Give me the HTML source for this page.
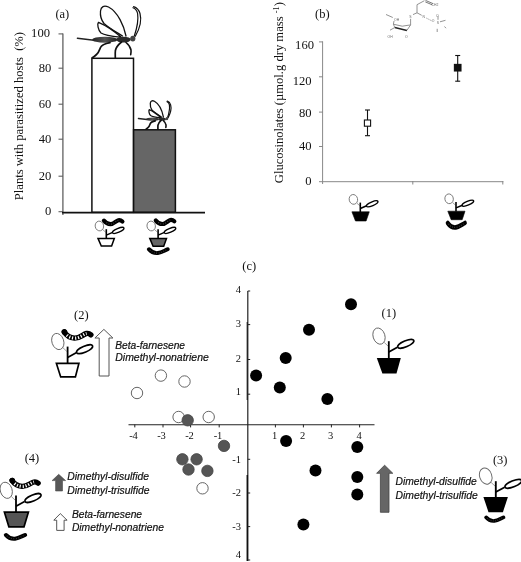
<!DOCTYPE html>
<html>
<head>
<meta charset="utf-8">
<title>Figure</title>
<style>
html,body{margin:0;padding:0;background:#fff;}
body{width:521px;height:562px;overflow:hidden;font-family:"Liberation Serif",serif;}
svg{display:block;filter:blur(0.45px);}
.se{font-family:"Liberation Serif",serif;fill:#111;}
.sa{font-family:"Liberation Sans",sans-serif;font-style:italic;fill:#111;font-size:10.2px;stroke:#111;stroke-width:0.2px;}
</style>
</head>
<body>
<svg width="521" height="562" viewBox="0 0 521 562">
<defs>
  <!-- wasp drawn in large-wasp page coordinates -->
  <linearGradient id="abd" x1="0" y1="0" x2="1" y2="0">
    <stop offset="0" stop-color="#222"/><stop offset="0.5" stop-color="#555"/><stop offset="1" stop-color="#222"/>
  </linearGradient>
  <g id="wasp" fill="none" stroke="#111" stroke-linecap="round" stroke-linejoin="round">
    <!-- fore wing -->
    <path vector-effect="non-scaling-stroke" d="M126,36 C124,26 118,12 108.5,7 C104,5 101,6.5 100.5,11 C100,16 102,21 104,23.5 C110,29 118,33 122.5,36" stroke-width="1.3" fill="#fff"/>
    <!-- hind wing -->
    <path vector-effect="non-scaling-stroke" d="M121,37 C114,31 105,25 98.5,22.3 C97,24 98,30 101,33 C105,35.5 113,36.5 120,37.2" stroke-width="1.3" fill="#fff"/>
    <!-- antennae -->
    <path vector-effect="non-scaling-stroke" d="M134.3,36 C137,28 138.6,20 137.6,13.5 C137,10.5 135.3,8.5 133,7.7" stroke-width="1.2"/>
    <path vector-effect="non-scaling-stroke" d="M135.3,36.3 C139.5,29 141.8,20 140,13.5 C139,10 136.5,7.5 133.6,6.6" stroke-width="1.2"/>
    <!-- ovipositor -->
    <path vector-effect="non-scaling-stroke" d="M77.4,38.3 L94,40.2" stroke-width="1.4" stroke="#222"/>
    <!-- abdomen -->
    <ellipse cx="104.8" cy="39.7" rx="12.5" ry="3" fill="url(#abd)" stroke="none"/>
    <!-- thorax -->
    <ellipse cx="123.5" cy="39.6" rx="7.4" ry="2.9" fill="#2a2a2a" stroke="none"/>
    <!-- head -->
    <ellipse cx="132.8" cy="38.6" rx="2.6" ry="2.9" fill="#444" stroke="none"/>
    <!-- legs -->
    <path vector-effect="non-scaling-stroke" d="M110,42.6 C105,43.5 101.5,45 100.5,47.5 C99.5,50 98.5,53 96.5,54.5 C95,55.8 93.5,57 92.3,57.8" stroke-width="1.7"/>
    <path vector-effect="non-scaling-stroke" d="M121.5,42 C118.5,44.5 116,47.5 115.4,50.5 C115.1,53 115.3,55.5 115.3,57.8" stroke-width="1.7"/>
    <path vector-effect="non-scaling-stroke" d="M126,42.5 C128.5,44.5 130.5,47.5 131,50 C131.2,52 130.9,53.5 130.7,54.6" stroke-width="1.6"/>
  </g>

  <!-- caterpillar (large, striped) origin = head centre -->
  <g id="cat">
    <path d="M0,0 C2,3.2 5.5,5.6 10,6 C15,6.3 18,2.6 22,1.5 C23.6,1.1 25,1.8 26.2,2.8" fill="none" stroke="#000" stroke-width="5.2" stroke-linecap="round" stroke-linejoin="round"/>
    <circle cx="0.3" cy="0.2" r="2.8" fill="#000"/>
    <path d="M2.2,2.6 C4,4.6 6.5,5.7 10,6 C15,6.3 18,2.6 22,1.5" fill="none" stroke="#fff" stroke-width="3.1" stroke-dasharray="1.15 1.75" stroke-dashoffset="-0.6"/>
  </g>
  <!-- small caterpillar (blob) origin = left end -->
  <g id="catS">
    <path d="M0,0 C2.5,3.2 6,4.8 9.5,4.4 C13.5,4 16.5,1.6 20,0" fill="none" stroke="#000" stroke-width="4.6" stroke-linecap="round"/>
    <path d="M1,1 C3,3.4 6,4.8 9.5,4.4 C13.5,4 16.5,1.6 19,0.4" fill="none" stroke="#4a4a4a" stroke-width="1.3" stroke-dasharray="0.8 1.8"/>
  </g>
  <g id="catT">
    <path d="M0,0 C1.5,2 3.5,3.6 6.5,3.6 C10,3.6 12,0.2 14.5,-0.4 C16,-0.7 17.5,0 18.5,0.9" fill="none" stroke="#000" stroke-width="4.2" stroke-linecap="round" stroke-linejoin="round"/>
    <path d="M2.5,2 C4,3.2 5,3.6 6.5,3.6 C10,3.6 12,0.2 14.5,-0.4" fill="none" stroke="#555" stroke-width="1.1" stroke-dasharray="0.8 1.7"/>
  </g>
  <!-- small plant: origin = top-centre of pot (stem base) -->
  <g id="plantS">
    <ellipse cx="-6.9" cy="-12.4" rx="4.2" ry="4.9" fill="#fff" stroke="#777" stroke-width="0.9" transform="rotate(-12 -6.9 -12.4)"/>
    <path d="M-3.4,-8.6 L-0.6,-6.2" stroke="#888" stroke-width="0.8" fill="none"/>
    <path d="M0,0.3 L0,-9.2" stroke="#000" stroke-width="1.6" fill="none"/>
    <path d="M0,-3.3 L6.4,-6" stroke="#000" stroke-width="1.5" fill="none"/>
    <ellipse cx="11.9" cy="-8" rx="6.2" ry="1.9" fill="#fff" stroke="#000" stroke-width="1.4" transform="rotate(-23 11.9 -8)"/>
  </g>
  <!-- large plant -->
  <g id="plantL">
    <ellipse cx="-9.8" cy="-21.9" rx="5.9" ry="8.3" fill="#fff" stroke="#666" stroke-width="0.9" transform="rotate(-18 -9.8 -21.9)"/>
    <path d="M-4.6,-15.6 L-0.8,-12" stroke="#888" stroke-width="0.8" fill="none"/>
    <path d="M0,0.5 L0,-16.8" stroke="#000" stroke-width="1.8" fill="none"/>
    <path d="M0,-6 L8.6,-10.7" stroke="#000" stroke-width="1.7" fill="none"/>
    <ellipse cx="17" cy="-14.2" rx="8.7" ry="3" fill="#fff" stroke="#000" stroke-width="1.6" transform="rotate(-23 17 -14.2)"/>
  </g>
</defs>

<rect x="0" y="0" width="521" height="562" fill="#fff"/>

<!-- ================= PANEL (a) ================= -->
<g id="panelA">
  <text class="se" x="55.4" y="17.5" font-size="12.5">(a)</text>
  <text class="se" transform="translate(22.9,200.2) rotate(-90)" font-size="12.6" xml:space="preserve">Plants with parasitized hosts  (%)</text>
  <!-- axis -->
  <line x1="62.9" y1="33.5" x2="62.9" y2="215" stroke="#606060" stroke-width="1.3"/>
  <g stroke="#606060" stroke-width="1.1">
    <line x1="58.5" y1="33.9" x2="63" y2="33.9"/>
    <line x1="58.5" y1="68.2" x2="63" y2="68.2"/>
    <line x1="58.5" y1="104.2" x2="63" y2="104.2"/>
    <line x1="58.5" y1="139.2" x2="63" y2="139.2"/>
    <line x1="58.5" y1="176.2" x2="63" y2="176.2"/>
    <line x1="58.5" y1="211.7" x2="63" y2="211.7"/>
  </g>
  <g class="se" font-size="12.6" text-anchor="end">
    <text x="50" y="37.4">100</text>
    <text x="51.3" y="71.7">80</text>
    <text x="51.3" y="107.7">60</text>
    <text x="51.3" y="142.7">40</text>
    <text x="51.3" y="179.7">20</text>
    <text x="51.3" y="215.2">0</text>
  </g>
  <!-- bars -->
  <rect x="91.9" y="58.3" width="41.6" height="154" fill="#fff" stroke="#111" stroke-width="1.5"/>
  <rect x="133.6" y="129.8" width="41.8" height="82.5" fill="#666" stroke="#111" stroke-width="1.5"/>
  <line x1="62" y1="212.6" x2="205" y2="212.6" stroke="#111" stroke-width="1.7"/>
  <!-- wasps -->
  <use href="#wasp"/>
  <use href="#wasp" transform="translate(138.4,118.5) scale(0.515,0.55) translate(-77.4,-38.4)"/>

  <!-- plants under bars -->
  <g transform="translate(106.3,238.4)">
    <use href="#plantS"/>
    <path d="M-8.3,0 L8,0 L5.3,7.6 L-5,7.6 Z" fill="#fff" stroke="#000" stroke-width="1.5"/>
  </g>
  <use href="#catT" transform="translate(103.9,220.6)"/>
  <g transform="translate(158.1,238.4)">
    <use href="#plantS"/>
    <path d="M-8.3,0 L8.4,0 L5.6,7.8 L-5,7.8 Z" fill="#666" stroke="#000" stroke-width="1.5"/>
  </g>
  <use href="#catT" transform="translate(155.8,220.4)"/>
  <use href="#catS" transform="translate(149,249.3) scale(0.93,0.85)"/>
</g>

<g id="panelB">
  <text class="se" x="315" y="17.5" font-size="12.5">(b)</text>
  <text class="se" transform="translate(283.3,183.2) rotate(-90)" font-size="12.6" xml:space="preserve">Glucosinolates (µmol.g dry mass <tspan font-size="8.4" dy="-4.2">-1</tspan><tspan dy="4.2">)</tspan></text>
  <line x1="322.6" y1="41.5" x2="322.6" y2="184" stroke="#888" stroke-width="1"/>
  <line x1="319" y1="181.7" x2="503.3" y2="181.7" stroke="#888" stroke-width="1"/>
  <g stroke="#888" stroke-width="1">
    <line x1="319" y1="41.9" x2="323" y2="41.9"/>
    <line x1="319" y1="76.8" x2="323" y2="76.8"/>
    <line x1="319" y1="112.1" x2="323" y2="112.1"/>
    <line x1="319" y1="146.5" x2="323" y2="146.5"/>
    <line x1="412.8" y1="181" x2="412.8" y2="184.5"/>
    <line x1="502.8" y1="181" x2="502.8" y2="184.5"/>
  </g>
  <g class="se" font-size="12.6" text-anchor="end">
    <text x="314" y="48.5">160</text>
    <text x="311.6" y="84.6">120</text>
    <text x="311.6" y="116.6">80</text>
    <text x="311.6" y="150.3">40</text>
    <text x="311.6" y="185">0</text>
  </g>
  <!-- data points -->
  <g stroke="#111" stroke-width="1.1" fill="none">
    <line x1="367.5" y1="110" x2="367.5" y2="135.7"/>
    <line x1="365" y1="110" x2="370" y2="110"/>
    <line x1="365" y1="135.7" x2="370" y2="135.7"/>
    <rect x="364.4" y="120" width="6.2" height="6.2" fill="#fff"/>
    <line x1="457.7" y1="55.5" x2="457.7" y2="81.2"/>
    <line x1="455.2" y1="55.5" x2="460.2" y2="55.5"/>
    <line x1="455.2" y1="81.2" x2="460.2" y2="81.2"/>
    <rect x="454.4" y="64.4" width="6.6" height="6.6" fill="#111"/>
  </g>
  <!-- plants -->
  <g transform="translate(360.3,211.8)">
    <use href="#plantS"/>
    <path d="M-8.4,0 L9,0 L5.8,9.2 L-4.8,9.2 Z" fill="#000" stroke="#000" stroke-width="0.6"/>
  </g>
  <g transform="translate(456,211.2)">
    <use href="#plantS"/>
    <path d="M-8.2,0 L9,0 L6.2,8.5 L-4.8,8.5 Z" fill="#000" stroke="#000" stroke-width="0.6"/>
  </g>
  <use href="#catS" transform="translate(447.7,223) scale(0.86,1)"/>
  <!-- molecule -->
  <g id="mol" stroke="#777" stroke-width="0.8" fill="none">
    <path d="M417,12.8 L417,4.7 L424.4,0.7"/>
    <path d="M425.5,0.4 L433,3.6 M425.3,1.9 L432.4,4.9" stroke="#555"/>
    <path d="M417,12.8 L421.7,15.3"/>
    <path d="M426.4,18.1 L431.7,20.8" stroke-dasharray="1.2 1"/>
    <path d="M440,21.8 L445.5,20.3 M438,16.2 L438,19.8 M437.2,28.8 L437.2,32 M444.5,26.5 L446,28.2"/>
    <path d="M417,12.8 L413,14.6"/>
    <path d="M410.6,18.8 L410.6,24.9 L406.9,30.4"/>
    <path d="M406.9,30.6 L394.8,27.5" stroke="#222" stroke-width="1.5"/>
    <path d="M394.8,27.5 L390,30.2 M394.8,27.5 L393.4,24.2 L402.2,26.2 L410.6,24.9 M393.4,24.2 L394,21"/>
    <path d="M386,14.5 L392.8,17.5"/>
  </g>
  <g font-family="Liberation Sans, sans-serif" font-size="3.4" fill="#666">
    <text x="409.2" y="18.2">S</text>
    <text x="422.5" y="17.8">N</text>
    <text x="431.8" y="22.3">O</text>
    <text x="436.8" y="23.6">S</text>
    <text x="436" y="17">O</text>
    <text x="394" y="20.8">OH</text>
    <text x="387.5" y="37.5">OH</text>
    <text x="405" y="37.5">O</text>
    <text x="431.6" y="6.3">CH2</text>
  </g>
</g>


<g id="panelC">
  <text class="se" x="242.3" y="270" font-size="12.5">(c)</text>
  <!-- axes -->
  <line x1="247.8" y1="291" x2="247.8" y2="561" stroke="#222" stroke-width="1.2"/>
  <line x1="247.3" y1="475" x2="247.3" y2="561" stroke="#111" stroke-width="1.5"/>
  <line x1="247.3" y1="322" x2="247.3" y2="400" stroke="#222" stroke-width="1.3"/>
  <line x1="128.5" y1="424.7" x2="374.5" y2="424.7" stroke="#222" stroke-width="1.1"/>
  <g stroke="#222" stroke-width="1">
    <line x1="134.8" y1="424.5" x2="134.8" y2="427.4"/>
    <line x1="163" y1="424.5" x2="163" y2="427.4"/>
    <line x1="190.6" y1="424.5" x2="190.6" y2="427.4"/>
    <line x1="219.2" y1="424.5" x2="219.2" y2="427.4"/>
    <line x1="275.4" y1="424.5" x2="275.4" y2="427.4"/>
    <line x1="303.4" y1="424.5" x2="303.4" y2="427.4"/>
    <line x1="331.4" y1="424.5" x2="331.4" y2="427.4"/>
    <line x1="359.6" y1="424.5" x2="359.6" y2="427.4"/>
    <line x1="247.8" y1="291" x2="250.2" y2="291"/>
    <line x1="247.8" y1="324.6" x2="250.2" y2="324.6"/>
    <line x1="247.8" y1="359.5" x2="250.2" y2="359.5"/>
    <line x1="247.8" y1="394.2" x2="250.2" y2="394.2"/>
    <line x1="247.8" y1="459.3" x2="250.2" y2="459.3"/>
    <line x1="247.8" y1="493" x2="250.2" y2="493"/>
    <line x1="247.8" y1="526.6" x2="250.2" y2="526.6"/>
    <line x1="247.8" y1="560" x2="250.2" y2="560"/>
  </g>
  <g class="se" font-size="10.5" text-anchor="middle">
    <text x="133.5" y="438.7">-4</text>
    <text x="161.5" y="438.7">-3</text>
    <text x="189.5" y="438.7">-2</text>
    <text x="218" y="438.7">-1</text>
    <text x="274.6" y="438.7">1</text>
    <text x="302.5" y="438.7">2</text>
    <text x="330.5" y="438.7">3</text>
    <text x="359" y="438.7">4</text>
  </g>
  <g class="se" font-size="10.5" text-anchor="end">
    <text x="241" y="292.5">4</text>
    <text x="241" y="326.8">3</text>
    <text x="241" y="361.5">2</text>
    <text x="241" y="395">1</text>
    <text x="241" y="463">-1</text>
    <text x="241" y="496">-2</text>
    <text x="241" y="529.7">-3</text>
    <text x="241" y="558">4</text>
  </g>
  <!-- points -->
  <g fill="#fff" stroke="#555" stroke-width="0.9">
    <circle cx="160.9" cy="375.6" r="5.7"/>
    <circle cx="184.5" cy="381.5" r="5.7"/>
    <circle cx="137" cy="393" r="5.7"/>
    <circle cx="178.6" cy="417" r="5.7"/>
    <circle cx="208.7" cy="417" r="5.7"/>
    <circle cx="202.5" cy="488.3" r="5.7"/>
  </g>
  <g fill="#555" stroke="#444" stroke-width="0.8">
    <circle cx="187.7" cy="420.3" r="5.7"/>
    <circle cx="224" cy="445.9" r="5.7"/>
    <circle cx="182.4" cy="459.3" r="5.7"/>
    <circle cx="196.6" cy="459.3" r="5.7"/>
    <circle cx="188.5" cy="469.5" r="5.7"/>
    <circle cx="207.4" cy="470.9" r="5.7"/>
  </g>
  <g fill="#000">
    <circle cx="351" cy="304.2" r="6"/>
    <circle cx="309" cy="329.7" r="6"/>
    <circle cx="285.7" cy="358" r="6"/>
    <circle cx="256.1" cy="375.4" r="6"/>
    <circle cx="279.8" cy="387.5" r="6"/>
    <circle cx="327.4" cy="399" r="6"/>
    <circle cx="286.1" cy="440.9" r="6"/>
    <circle cx="357.3" cy="447" r="6"/>
    <circle cx="315.5" cy="470.6" r="6"/>
    <circle cx="357.3" cy="477" r="6"/>
    <circle cx="357.3" cy="494.5" r="6"/>
    <circle cx="303.4" cy="524.5" r="6"/>
  </g>

  <!-- (1) -->
  <text class="se" x="381.6" y="317.4" font-size="12.5">(1)</text>
  <g transform="translate(388.8,358)">
    <use href="#plantL"/>
    <path d="M-12,0 L12,0 L7.7,15.5 L-6.4,15.5 Z" fill="#000"/>
  </g>

  <!-- (2) -->
  <text class="se" x="74" y="318.7" font-size="12.5">(2)</text>
  <g transform="translate(67.6,363.4)">
    <use href="#plantL"/>
    <path d="M-11.2,0 L11.3,0 L7.8,13.5 L-6.9,13.5 Z" fill="#fff" stroke="#000" stroke-width="1.7"/>
  </g>
  <use href="#cat" transform="translate(64.2,331.9) scale(1.02,1.04)"/>
  <path d="M99.2,376 L99.2,338 L94.9,338 L103.9,329.4 L112.9,338 L109,338 L109,376 Z" fill="#fff" stroke="#555" stroke-width="1"/>
  <text class="sa" x="115.3" y="348.7" textLength="69.7" lengthAdjust="spacingAndGlyphs">Beta-farnesene</text>
  <text class="sa" x="115.3" y="361.4" textLength="93.5" lengthAdjust="spacingAndGlyphs">Dimethyl-nonatriene</text>

  <!-- (3) -->
  <text class="se" x="492.9" y="464" font-size="12.5">(3)</text>
  <g transform="translate(495.4,497)">
    <use href="#plantL" transform="translate(0.4,1) scale(1.03,1)"/>
    <path d="M-12,0 L12.5,0 L7.5,15.2 L-6.9,15.2 Z" fill="#000"/>
  </g>
  <use href="#catS" transform="translate(486.2,517.4) scale(0.86,0.8)"/>
  <path d="M380.4,512.3 L380.4,473.3 L376.6,473.3 L384.6,465.2 L392.8,473.3 L389,473.3 L389,512.3 Z" fill="#666" stroke="#444" stroke-width="0.8"/>
  <text class="sa" x="395.5" y="485" textLength="81.3" lengthAdjust="spacingAndGlyphs">Dimethyl-disulfide</text>
  <text class="sa" x="395.5" y="499" textLength="82.2" lengthAdjust="spacingAndGlyphs">Dimethyl-trisulfide</text>

  <!-- (4) -->
  <text class="se" x="24.7" y="462.3" font-size="12.5">(4)</text>
  <g transform="translate(16,512.2)">
    <use href="#plantL"/>
    <path d="M-11.6,0 L12.4,0 L8,14.6 L-7.1,14.6 Z" fill="#555" stroke="#000" stroke-width="1.7"/>
  </g>
  <use href="#cat" transform="translate(12,480.4)"/>
  <use href="#catS" transform="translate(6,535) scale(0.95,0.85)"/>
  <path d="M55.6,491 L55.6,480.6 L52.1,480.6 L58.7,474.3 L65.6,480.6 L62.5,480.6 L62.5,491 Z" fill="#585858" stroke="#4a4a4a" stroke-width="0.6"/>
  <path d="M56.7,530.4 L56.7,520.2 L53.8,520.2 L60.3,513.6 L67.1,520.2 L64.1,520.2 L64.1,530.4 Z" fill="#fff" stroke="#444" stroke-width="0.9"/>
  <text class="sa" x="67.3" y="480" textLength="81.7" lengthAdjust="spacingAndGlyphs">Dimethyl-disulfide</text>
  <text class="sa" x="67.3" y="493.8" textLength="82.2" lengthAdjust="spacingAndGlyphs">Dimethyl-trisulfide</text>
  <text class="sa" x="71.9" y="518" textLength="70.2" lengthAdjust="spacingAndGlyphs">Beta-farnesene</text>
  <text class="sa" x="71.9" y="530.6" textLength="92.1" lengthAdjust="spacingAndGlyphs">Dimethyl-nonatriene</text>
</g>

</svg>
</body>
</html>
